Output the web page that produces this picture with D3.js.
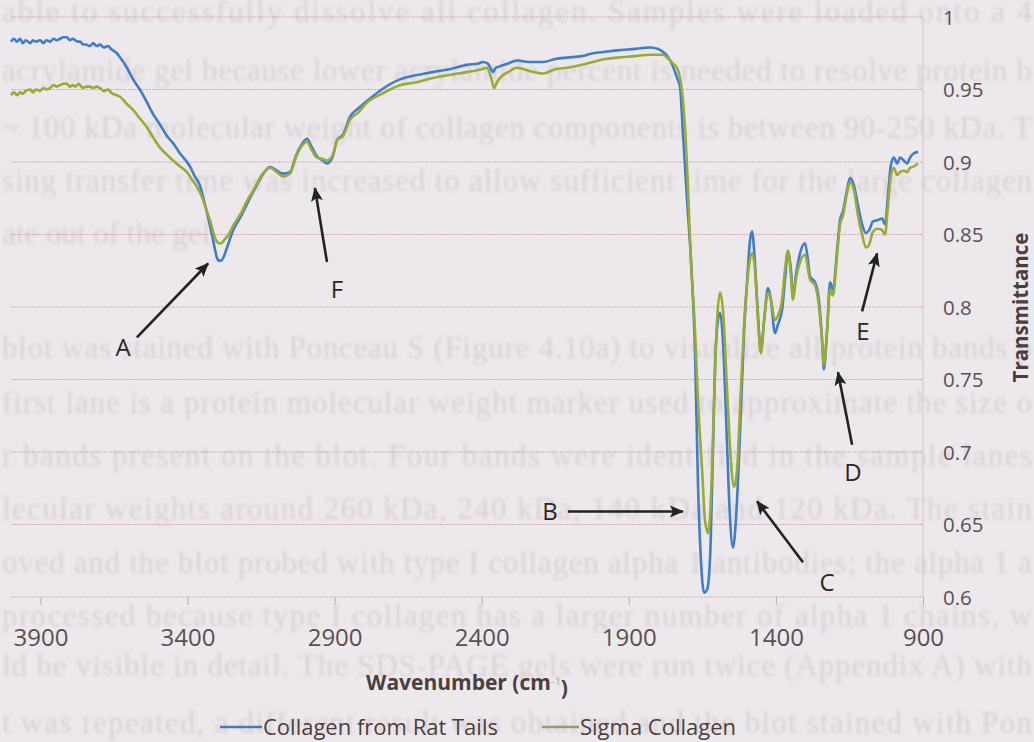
<!DOCTYPE html>
<html><head><meta charset="utf-8">
<script src="https://cdn.jsdelivr.net/npm/d3@7"></script>
<style>
html,body{margin:0;padding:0;background:#ede8eb;}
svg{display:block;}
</style></head><body>
<svg id="chart" width="1034" height="742"></svg>
<script>
// ---- data ----
const ratWavenumber = [4000,3990,3980,3969,3960,3950,3935,3925,3915,3901,3890,3880,3867,3855,3845,3833,3822,3810,3800,3790,3782,3770,3765,3755,3745,3731,3720,3710,3697,3685,3670,3660,3653,3640,3629,3606,3585,3562,3540,3517,3494,3470,3449,3426,3402,3392,3375,3358,3340,3334,3317,3307,3300,3293,3286,3276,3269,3245,3220,3198,3175,3154,3135,3120,3096,3075,3052,3030,3018,2994,2977,2960,2940,2926,2906,2892,2871,2848,2820,2790,2740,2678,2620,2566,2510,2450,2410,2396,2380,2368,2362,2352,2338,2310,2280,2240,2192,2150,2110,2060,2022,1980,1940,1880,1828,1800,1784,1765,1750,1736,1726,1716,1702,1685,1675,1665,1655,1644,1634,1624,1614,1607,1597,1590,1580,1569,1559,1546,1536,1522,1508,1498,1488,1481,1474,1464,1451,1440,1427,1417,1403,1393,1379,1369,1359,1349,1342,1332,1318,1301,1291,1284,1267,1254,1243,1237,1226,1216,1206,1192,1182,1172,1158,1148,1135,1121,1107,1094,1083,1070,1053,1039,1029,1019,1009,999,988,978,965,954,944,931,917];
const ratTransmittance = [0.983,0.985,0.983,0.985,0.982,0.984,0.982,0.984,0.983,0.984,0.982,0.984,0.983,0.985,0.984,0.985,0.986,0.986,0.984,0.985,0.984,0.983,0.983,0.981,0.981,0.980,0.982,0.980,0.981,0.979,0.980,0.978,0.977,0.975,0.972,0.965,0.957,0.950,0.942,0.933,0.926,0.918,0.913,0.906,0.900,0.897,0.890,0.884,0.870,0.865,0.850,0.840,0.834,0.832,0.832,0.835,0.839,0.853,0.862,0.871,0.880,0.888,0.894,0.8965,0.894,0.892,0.893,0.905,0.910,0.916,0.910,0.904,0.901,0.899,0.904,0.915,0.919,0.931,0.937,0.942,0.950,0.957,0.960,0.962,0.964,0.967,0.968,0.969,0.968,0.964,0.962,0.965,0.966,0.968,0.970,0.969,0.969,0.971,0.972,0.973,0.975,0.976,0.977,0.978,0.979,0.978,0.976,0.972,0.966,0.958,0.952,0.920,0.874,0.819,0.770,0.679,0.626,0.603,0.605,0.626,0.701,0.759,0.791,0.796,0.777,0.722,0.667,0.634,0.653,0.713,0.784,0.817,0.846,0.852,0.839,0.805,0.770,0.791,0.813,0.805,0.782,0.788,0.798,0.819,0.838,0.826,0.807,0.822,0.837,0.844,0.832,0.821,0.817,0.805,0.777,0.757,0.784,0.817,0.812,0.839,0.860,0.866,0.881,0.889,0.884,0.870,0.857,0.851,0.853,0.859,0.860,0.861,0.857,0.877,0.898,0.903,0.899,0.903,0.901,0.899,0.903,0.906,0.907];

const sigmaWavenumber = [4000,3990,3980,3969,3960,3950,3935,3925,3915,3901,3890,3880,3867,3855,3845,3833,3822,3810,3800,3790,3782,3770,3765,3755,3745,3731,3720,3710,3697,3685,3670,3660,3653,3640,3629,3606,3585,3562,3538,3517,3494,3470,3449,3426,3402,3385,3368,3347,3334,3324,3307,3293,3286,3276,3260,3245,3220,3198,3175,3154,3135,3120,3096,3075,3052,3030,3018,2994,2977,2960,2940,2926,2906,2892,2871,2848,2820,2790,2740,2678,2620,2566,2510,2450,2400,2382,2368,2358,2348,2338,2310,2280,2240,2192,2150,2110,2060,2022,1980,1940,1880,1828,1800,1784,1765,1750,1736,1726,1716,1702,1689,1675,1665,1651,1641,1631,1621,1610,1600,1590,1580,1566,1553,1542,1532,1519,1505,1491,1481,1471,1461,1451,1440,1427,1417,1403,1393,1379,1369,1359,1349,1342,1332,1318,1301,1284,1267,1254,1243,1237,1226,1216,1206,1192,1182,1172,1158,1148,1135,1121,1107,1094,1083,1070,1053,1039,1029,1019,1009,999,988,978,965,954,944,931,917];
const sigmaTransmittance = [0.946,0.948,0.946,0.948,0.947,0.949,0.950,0.948,0.950,0.949,0.951,0.950,0.951,0.953,0.952,0.953,0.954,0.954,0.952,0.953,0.952,0.954,0.953,0.951,0.952,0.952,0.951,0.952,0.951,0.949,0.950,0.948,0.947,0.946,0.945,0.940,0.936,0.930,0.924,0.917,0.910,0.905,0.901,0.897,0.893,0.888,0.883,0.874,0.866,0.860,0.848,0.844,0.844,0.846,0.850,0.856,0.864,0.873,0.881,0.889,0.894,0.896,0.893,0.890,0.892,0.904,0.909,0.914,0.908,0.903,0.902,0.901,0.905,0.915,0.918,0.929,0.934,0.941,0.947,0.953,0.955,0.958,0.960,0.962,0.964,0.965,0.958,0.951,0.955,0.958,0.962,0.965,0.963,0.961,0.964,0.965,0.967,0.969,0.971,0.972,0.973,0.974,0.974,0.974,0.971,0.968,0.965,0.958,0.943,0.897,0.832,0.784,0.736,0.688,0.653,0.644,0.667,0.736,0.791,0.810,0.798,0.743,0.694,0.676,0.688,0.743,0.798,0.829,0.837,0.826,0.791,0.768,0.791,0.810,0.805,0.791,0.794,0.805,0.826,0.839,0.822,0.805,0.819,0.831,0.836,0.819,0.815,0.801,0.777,0.760,0.784,0.812,0.808,0.836,0.857,0.863,0.879,0.886,0.881,0.863,0.850,0.841,0.843,0.852,0.854,0.853,0.850,0.870,0.891,0.896,0.891,0.893,0.894,0.893,0.896,0.897,0.899];

const seriesNames = ["Collagen from Rat Tails", "Sigma Collagen"];
const xTickValues = [3900, 3400, 2900, 2400, 1900, 1400, 900];
const yTickValues = [0.6, 0.65, 0.7, 0.75, 0.8, 0.85, 0.9, 0.95, 1];
const yTickLabels = ["0.6", "0.65", "0.7", "0.75", "0.8", "0.85", "0.9", "0.95", "1"];
const xAxisTitle = "Wavenumber (cm";
const yAxisTitle = "Transmittance";

// annotations: letter, arrow tail [wavenumber, T], arrow head [wavenumber, T], letter position
const annotationLetters = ["A", "B", "C", "D", "E", "F"];
const arrowTails = [[3572, 0.779], [2107, 0.659], [1308, 0.624], [1141, 0.705], [1107, 0.797], [2926, 0.831]];
const arrowHeads = [[3330, 0.830], [1716, 0.659], [1464, 0.666], [1189, 0.755], [1056, 0.837], [2967, 0.882]];
const letterPositions = [[3619, 0.772], [2168, 0.659], [1226, 0.610], [1138, 0.686], [1104, 0.783], [2892, 0.812]];

// faint text of the scanned page showing behind the chart
const pageTextLines = [
  "able to successfully dissolve all collagen. Samples were loaded onto a 4",
  "acrylamide gel because lower acrylamide percent is needed to resolve protein b",
  "~ 100 kDa molecular weight of collagen components is between 90-250 kDa. T",
  "sing transfer time was increased to allow sufficient time for the large collagen",
  "ate out of the gel.",
  "blot was stained with Ponceau S (Figure 4.10a) to visualize all protein bands p",
  "first lane is a protein molecular weight marker used to approximate the size o",
  "r bands present on the blot. Four bands were identified in the sample lanes",
  "lecular weights around 260 kDa, 240 kDa, 140 kDa and 120 kDa. The stain",
  "oved and the blot probed with type I collagen alpha 1 antibodies; the alpha 1 a",
  "processed because type I collagen has a larger number of alpha 1 chains, w",
  "ld be visible in detail. The SDS-PAGE gels were run twice (Appendix A) with",
  "t was repeated, a different result was obtained and the blot stained with Pon"
];
const pageTextRows = [11, 70, 127, 180, 233, 347, 402, 455, 508, 562, 615, 665, 722];

// ---- drawing ----
const W = 1034, H = 742;
const plot = {left: 11, right: 923, top: 17, bottom: 597};
const svg = d3.select("#chart");
const FONT = "'Open Sans', 'Noto Sans', sans-serif";

svg.append("rect").attr("width", W).attr("height", H).attr("fill", "#ede8eb");

const defs = svg.append("defs");
defs.append("filter").attr("id", "blur").attr("x", "-5%").attr("y", "-20%").attr("width", "110%").attr("height", "140%")
  .append("feGaussianBlur").attr("stdDeviation", 1.6);
defs.append("marker").attr("id", "arrowhead")
  .attr("markerUnits", "userSpaceOnUse")
  .attr("viewBox", "0 0 14 12").attr("refX", 13).attr("refY", 6)
  .attr("markerWidth", 14).attr("markerHeight", 12).attr("orient", "auto")
  .append("path").attr("d", "M0,0 L14,6 L0,12 L3,6 Z").attr("fill", "#222");

// background page text (faint)
svg.append("g").attr("filter", "url(#blur)")
  .selectAll("text").data(pageTextLines).join("text")
  .attr("x", 2).attr("y", (d, i) => pageTextRows[i])
  .attr("dy", "0.35em")
  .attr("font-family", "'Liberation Serif', 'DejaVu Serif', serif")
  .attr("font-size", 31)
  .attr("fill", "#d7d0d4")
  .each(function(d) {
    if (d.length > 30) d3.select(this).attr("textLength", 1030).attr("lengthAdjust", "spacing");
  })
  .text(d => d);

const x = d3.scaleLinear().domain([4000, 900]).range([plot.left, plot.right]);
const y = d3.scaleLinear().domain([0.6, 1]).range([plot.bottom, plot.top]);

// gridlines
svg.append("g").selectAll("line").data(yTickValues).join("line")
  .attr("x1", plot.left).attr("x2", plot.right)
  .attr("y1", d => y(d)).attr("y2", d => y(d))
  .attr("stroke", "#cfa9b6").attr("stroke-width", 1).attr("stroke-dasharray", "2,1");
// right border
svg.append("line").attr("x1", plot.right).attr("x2", plot.right)
  .attr("y1", plot.top).attr("y2", plot.bottom)
  .attr("stroke", "#d6c2ca").attr("stroke-width", 1);

// x axis
const xAxis = svg.append("g").attr("transform", `translate(0,${plot.bottom})`)
  .call(d3.axisBottom(x).tickValues(xTickValues).tickFormat(d3.format("d")).tickSize(8));
xAxis.select(".domain").remove();
xAxis.selectAll(".tick line").attr("stroke", "#b9aab0");
xAxis.selectAll(".tick text").attr("y", 41).attr("dy", "0.35em")
  .attr("font-family", FONT).attr("font-size", 24).attr("fill", "#5a5052");

// y axis (right)
const yAxis = svg.append("g").attr("transform", `translate(${plot.right + 20},0)`)
  .call(d3.axisRight(y).tickValues(yTickValues).tickFormat((d, i) => yTickLabels[i]).tickSize(0));
yAxis.select(".domain").remove();
yAxis.selectAll(".tick text").attr("x", 0).attr("dy", "0.35em")
  .attr("font-family", FONT).attr("font-size", 20.5).attr("fill", "#5a5052");

// axis titles
const xt = svg.append("text").attr("x", 467).attr("y", 683).attr("dy", "0.35em")
  .attr("text-anchor", "middle").attr("font-family", FONT).attr("font-weight", "bold")
  .attr("font-size", 21).attr("fill", "#4a3e3e");
xt.append("tspan").text(xAxisTitle);
xt.append("tspan").attr("dy", "-0.5em").attr("font-size", 11).attr("fill", "#c8c0c4").text("-1");
xt.append("tspan").attr("dy", "0.5em").text(")");

svg.append("text").attr("transform", `translate(1021,${(233 + 382) / 2}) rotate(-90)`)
  .attr("dy", "0.35em").attr("text-anchor", "middle")
  .attr("font-family", FONT).attr("font-weight", "bold").attr("font-size", 20.5)
  .attr("fill", "#4a3e3e").text(yAxisTitle);

// series
const series = [
  {name: seriesNames[0], w: ratWavenumber, t: ratTransmittance, color: "#3f7ccc"},
  {name: seriesNames[1], w: sigmaWavenumber, t: sigmaTransmittance, color: "#98ab35"}
];
const line = d3.line().x(d => x(d[0])).y(d => y(d[1])).curve(d3.curveMonotoneX);
svg.append("g").selectAll("path").data(series).join("path")
  .attr("d", s => line(s.w.map((w, i) => [w, s.t[i]])))
  .attr("fill", "none").attr("stroke", s => s.color)
  .attr("stroke-width", 2.6).attr("stroke-linejoin", "round");

// annotations
svg.append("g").selectAll("line").data(annotationLetters).join("line")
  .attr("x1", (d, i) => x(arrowTails[i][0])).attr("y1", (d, i) => y(arrowTails[i][1]))
  .attr("x2", (d, i) => x(arrowHeads[i][0])).attr("y2", (d, i) => y(arrowHeads[i][1]))
  .attr("stroke", "#222").attr("stroke-width", 2.6).attr("marker-end", "url(#arrowhead)");
svg.append("g").selectAll("text").data(annotationLetters).join("text")
  .attr("x", (d, i) => x(letterPositions[i][0])).attr("y", (d, i) => y(letterPositions[i][1]))
  .attr("dy", "0.35em").attr("text-anchor", "middle")
  .attr("font-family", FONT).attr("font-size", 24).attr("fill", "#2e2626")
  .text(d => d);

// legend
const legendX = [220, 542];
const lg = svg.append("g").selectAll("g").data(series).join("g")
  .attr("transform", (d, i) => `translate(${legendX[i]},727)`);
lg.append("line").attr("x1", 0).attr("x2", (d, i) => i === 0 ? 42 : 37)
  .attr("stroke", (d, i) => i === 0 ? "#4a78b4" : "#8f9e6c").attr("stroke-width", 2.6);
lg.append("text").attr("x", (d, i) => i === 0 ? 43 : 38).attr("dy", "0.35em")
  .attr("font-family", FONT).attr("font-size", 22).attr("fill", "#4a3e3e")
  .text(d => d.name);
</script>
</body></html>
